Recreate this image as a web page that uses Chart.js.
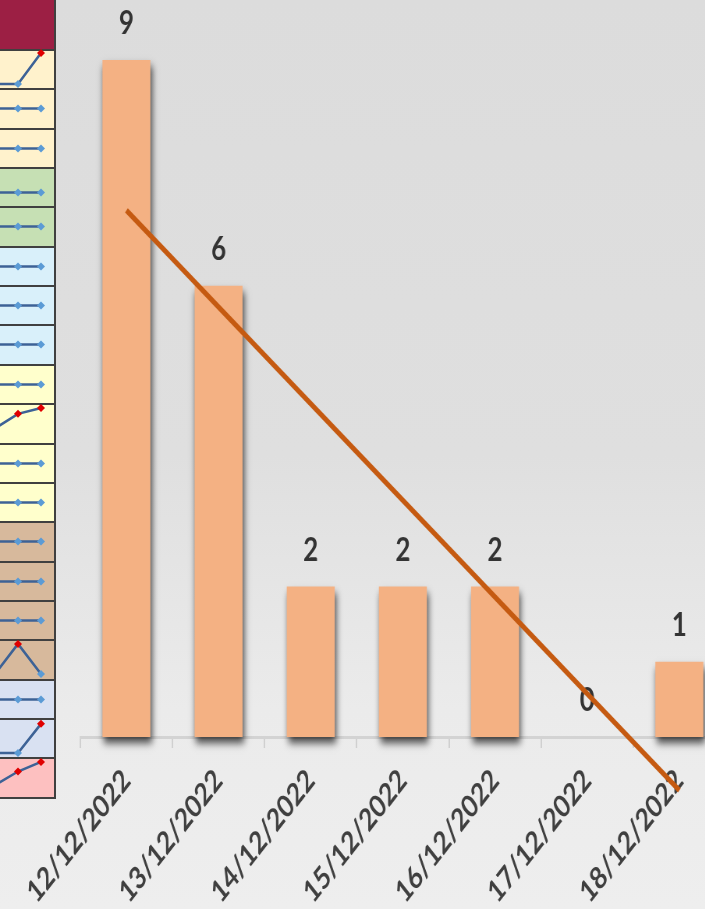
<!DOCTYPE html>
<html>
<head>
<meta charset="utf-8">
<script src="https://cdn.jsdelivr.net/npm/chart.js@4/dist/chart.umd.min.js"></script>
<style>
    html, body {
        margin: 0;
        padding: 0;
    }
    body {
        width: 705px;
        height: 909px;
        overflow: hidden;
        position: relative;
        background: linear-gradient(to bottom, #dcdcdc 0%, #dfdfdf 50%, #e5e5e5 64%, #ebebeb 78%, #eeeeee 100%);
        font-family: Lato, sans-serif;
    }
    #myChartBar {
        position: absolute;
        left: 0;
        top: 0;
        transform: scaleX(0.78);
        transform-origin: 0 0;
    }
    #tableau {
        position: absolute;
        left: 0;
        top: 0;
        width: 54px;
        height: 799px;
        overflow: hidden;
        border-right: 2px solid #404040;
        z-index: 2;
    }
    .entete {
        position: absolute;
        left: 0;
        top: 0;
        width: 54px;
        height: 49px;
        background: #9c1f44;
    }
    .ligne {
        position: absolute;
        left: 0;
        width: 54px;
        box-sizing: border-box;
        border-top: 2px solid #404040;
    }
    .ligne canvas {
        position: absolute;
        left: -20px;
        top: 0;
    }
</style>
</head>
<body>

<canvas id="myChartBar" width="930" height="909"></canvas>
<div id="tableau"><div class="entete"></div></div>

<script>
//! Les données.

const dates = ['12/12/2022', '13/12/2022', '14/12/2022', '15/12/2022', '16/12/2022', '17/12/2022', '18/12/2022'];
const valeurs = [9, 6, 2, 2, 2, 0, 1];

// Courbe de tendance (début et fin).
const tendance = [7.0, null, null, null, null, null, -0.71];

//! Le tableau à gauche.

const couleursLignes = [
    '#fff2cc', '#fff2cc', '#fff2cc',
    '#c6e0b4', '#c6e0b4',
    '#d9f0fa', '#d9f0fa', '#d9f0fa',
    '#ffffcc', '#ffffcc', '#ffffcc', '#ffffcc',
    '#d7b99c', '#d7b99c', '#d7b99c', '#d7b99c',
    '#d9e1f2', '#d9e1f2',
    '#fdc0c0',
];

const sparklines = [
    [0, 0, 1],
    [0.47, 0.47, 0.47],
    [0.47, 0.47, 0.47],
    [0.31, 0.31, 0.31],
    [0.47, 0.47, 0.47],
    [0.47, 0.47, 0.47],
    [0.47, 0.47, 0.47],
    [0.47, 0.47, 0.47],
    [0.47, 0.47, 0.47],
    [0.31, 0.78, 0.97],
    [0.47, 0.47, 0.47],
    [0.47, 0.47, 0.47],
    [0.47, 0.47, 0.47],
    [0.47, 0.47, 0.47],
    [0.47, 0.47, 0.47],
    [0, 0.97, 0],
    [0.47, 0.47, 0.47],
    [0, 0, 0.94],
    [0.22, 0.66, 0.97],
];

// r = point rouge, b = point bleu
const marqueurs = [
    'bbr', 'bbb', 'bbb', 'bbb', 'bbb', 'bbb', 'bbb', 'bbb', 'bbb', 'brr',
    'bbb', 'bbb', 'bbb', 'bbb', 'bbb', 'brb', 'bbb', 'bbr', 'brr',
];

//! --------------------------------------------------

//? Construction du tableau.

const tableau = document.getElementById('tableau');

couleursLignes.forEach((couleur, i) => {
    const haut = Math.round(49 + i * 39.35);
    const bas = Math.round(49 + (i + 1) * 39.35);
    const hauteur = bas - haut;

    const ligne = document.createElement('div');
    ligne.className = 'ligne';
    ligne.style.top = haut + 'px';
    ligne.style.height = (i === couleursLignes.length - 1 ? hauteur + 2 : hauteur) + 'px';
    ligne.style.background = couleur;
    if (i === couleursLignes.length - 1) ligne.style.borderBottom = '2px solid #404040';
    tableau.appendChild(ligne);

    const canvas = document.createElement('canvas');
    canvas.width = 75;
    canvas.height = hauteur;
    canvas.style.top = '-2px';
    ligne.appendChild(canvas);

    const couleursPoints = marqueurs[i].split('').map((m) => m === 'r' ? '#e00000' : '#5b9bd5');

    new Chart(canvas.getContext('2d'), {
        type: 'line',
        data: {
            labels: ['a', 'b', 'c'],
            datasets: [{
                data: sparklines[i],
                borderColor: '#3d6296',
                borderWidth: 2.5,
                pointStyle: 'rectRot',
                pointRadius: 4,
                pointBorderWidth: 0,
                pointBackgroundColor: couleursPoints,
                tension: 0,
                clip: false,
            }],
        },
        options: {
            responsive: false,
            animation: false,
            events: [],
            layout: { padding: { left: 15, right: 14, top: 3, bottom: hauteur - 35 } },
            plugins: { legend: { display: false }, tooltip: { enabled: false } },
            scales: {
                x: { display: false },
                y: { display: false, min: 0, max: 1 },
            },
        },
    });
});

//? -------------------------------------------------

//? Plugin ombre + valeurs au-dessus des barres.

const ombreEtValeurs = {
    id: 'ombreEtValeurs',
    beforeDatasetDraw(chart, args) {
        if (args.meta.type !== 'bar') return;
        const ctx = chart.ctx;
        ctx.save();
        ctx.shadowColor = 'rgba(0, 0, 0, 0.7)';
        ctx.shadowBlur = 8;
        ctx.shadowOffsetX = 2;
        ctx.shadowOffsetY = 6;
    },
    afterDatasetDraw(chart, args) {
        if (args.meta.type !== 'bar') return;
        const ctx = chart.ctx;
        ctx.restore();
        ctx.save();
        ctx.font = 'bold 33px Lato';
        ctx.fillStyle = '#333333';
        ctx.textAlign = 'center';
        ctx.textBaseline = 'alphabetic';
        args.meta.data.forEach((bar, i) => {
            ctx.fillText(String(valeurs[i]), bar.x, bar.y - 26);
        });
        ctx.restore();
    },
};

//? Construction du graphique.

const ctxBar = document.getElementById('myChartBar').getContext('2d');

new Chart(ctxBar, {
    type: 'bar',
    data: {
        labels: dates,
        datasets: [
            {
                type: 'line',
                data: tendance,
                borderColor: '#c55a11',
                borderWidth: 5.5,
                pointRadius: 0,
                spanGaps: true,
                clip: false,
                order: 1,
            },
            {
                type: 'bar',
                data: valeurs,
                backgroundColor: '#f4b183',
                barPercentage: 0.52,
                categoryPercentage: 1,
                clip: false,
                order: 2,
            },
        ],
    },
    options: {
        responsive: false,
        animation: false,
        events: [],
        layout: { padding: { left: 103, right: 0, top: 60, bottom: 0 } },
        plugins: { legend: { display: false }, tooltip: { enabled: false } },
        scales: {
            x: {
                afterFit: (s) => {
                    s.height = 172;
                    s.paddingLeft = 0;
                    s.paddingRight = 0;
                },
                border: { display: true, color: '#d3d3d3', width: 3 },
                grid: {
                    display: true,
                    drawOnChartArea: false,
                    drawTicks: true,
                    tickLength: 11,
                    color: '#d0d0d0',
                    lineWidth: 2,
                },
                ticks: {
                    minRotation: 45,
                    maxRotation: 45,
                    autoSkip: false,
                    padding: 14,
                    color: '#3f3f3f',
                    font: { family: 'Lato', size: 31, weight: 'bold' },
                },
            },
            y: {
                display: false,
                min: 0,
                max: 9,
            },
        },
    },
    plugins: [ombreEtValeurs],
});
</script>
</body>
</html>
